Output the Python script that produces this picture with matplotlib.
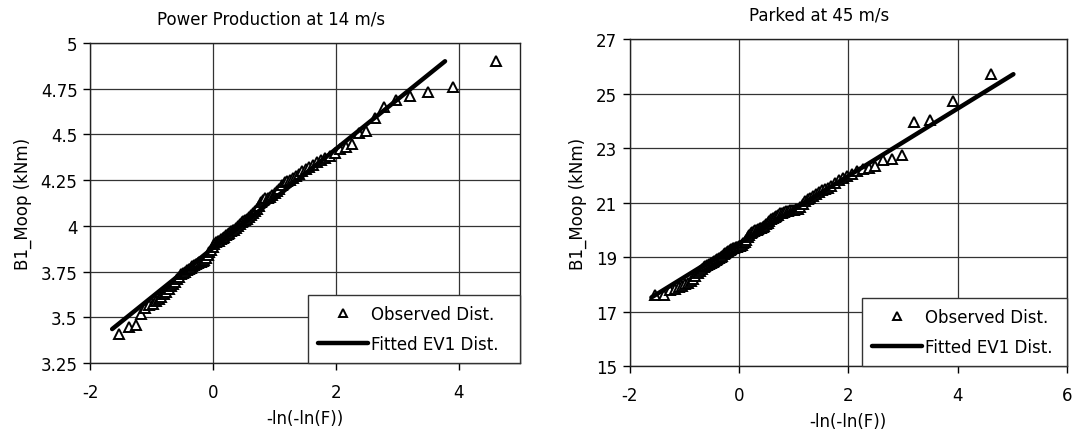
import matplotlib
matplotlib.use("Agg")
import matplotlib.pyplot as plt
from matplotlib.ticker import FuncFormatter

plt.rcParams['font.family'] = ['DejaVu Sans']
plt.rcParams['axes.unicode_minus'] = False

# reduced variate -ln(-ln(F)) of the 100 ranked samples (shared by both panels)
reduced_variate = [
    -1.529, -1.367, -1.258, -1.172, -1.101, -1.038, -0.982, -0.930, -0.883, -0.838,
    -0.796, -0.756, -0.718, -0.681, -0.646, -0.611, -0.578, -0.545, -0.513, -0.482,
    -0.451, -0.421, -0.392, -0.363, -0.334, -0.305, -0.277, -0.249, -0.221, -0.194,
    -0.167, -0.139, -0.112, -0.085, -0.058, -0.031, -0.004, 0.023, 0.050, 0.077,
    0.104, 0.131, 0.158, 0.185, 0.213, 0.240, 0.268, 0.296, 0.324, 0.352,
    0.381, 0.410, 0.439, 0.468, 0.498, 0.528, 0.559, 0.589, 0.621, 0.652,
    0.685, 0.717, 0.751, 0.785, 0.819, 0.855, 0.891, 0.927, 0.965, 1.004,
    1.043, 1.084, 1.125, 1.168, 1.212, 1.257, 1.305, 1.353, 1.404, 1.456,
    1.511, 1.568, 1.628, 1.691, 1.758, 1.828, 1.903, 1.982, 2.068, 2.160,
    2.261, 2.372, 2.495, 2.634, 2.794, 2.980, 3.209, 3.503, 3.912, 4.615,
]

# Power production at 14 m/s, observed B1_Moop (kNm)
power_obs = [
    3.41, 3.445, 3.46, 3.52, 3.55, 3.565, 3.575, 3.59, 3.60, 3.61,
    3.625, 3.64, 3.655, 3.67, 3.68, 3.695, 3.71, 3.72, 3.735, 3.745,
    3.75, 3.76, 3.765, 3.77, 3.78, 3.785, 3.79, 3.795, 3.80, 3.805,
    3.81, 3.815, 3.825, 3.84, 3.855, 3.87, 3.885, 3.90, 3.91, 3.915,
    3.92, 3.93, 3.935, 3.94, 3.95, 3.955, 3.96, 3.97, 3.975, 3.98,
    3.99, 4.00, 4.01, 4.02, 4.025, 4.03, 4.04, 4.05, 4.06, 4.07,
    4.08, 4.095, 4.11, 4.13, 4.14, 4.15, 4.155, 4.16, 4.17, 4.18,
    4.19, 4.20, 4.225, 4.24, 4.245, 4.25, 4.26, 4.27, 4.285, 4.30,
    4.31, 4.32, 4.335, 4.35, 4.36, 4.37, 4.38, 4.40, 4.42, 4.43,
    4.45, 4.51, 4.52, 4.59, 4.65, 4.69, 4.71, 4.73, 4.76, 4.90,
]
power_fit_x = [-1.64, 3.78]
power_fit_y = [3.436, 4.90]

# Parked at 45 m/s, observed B1_Moop (kNm)
parked_obs = [
    17.60, 17.62, 17.78, 17.84, 17.90, 17.95, 18.00, 18.05, 18.12, 18.20,
    18.30, 18.40, 18.50, 18.57, 18.62, 18.66, 18.70, 18.74, 18.78, 18.82,
    18.86, 18.89, 18.92, 18.96, 19.00, 19.05, 19.10, 19.15, 19.20, 19.24,
    19.27, 19.30, 19.32, 19.34, 19.36, 19.38, 19.40, 19.42, 19.45, 19.50,
    19.55, 19.62, 19.72, 19.82, 19.88, 19.92, 19.95, 19.98, 20.01, 20.04,
    20.06, 20.08, 20.10, 20.14, 20.20, 20.26, 20.32, 20.38, 20.43, 20.48,
    20.52, 20.56, 20.60, 20.63, 20.66, 20.68, 20.70, 20.71, 20.72, 20.73,
    20.75, 20.78, 20.85, 20.95, 21.05, 21.12, 21.18, 21.25, 21.32, 21.38,
    21.45, 21.50, 21.55, 21.60, 21.70, 21.82, 21.90, 21.97, 22.05, 22.15,
    22.23, 22.26, 22.35, 22.57, 22.60, 22.74, 23.94, 24.02, 24.73, 25.71,
]
parked_fit_x = [-1.60, 5.02]
parked_fit_y = [17.52, 25.71]

power_yticks = [3.25, 3.5, 3.75, 4, 4.25, 4.5, 4.75, 5]
parked_yticks = [15, 17, 19, 21, 23, 25, 27]

fig = plt.figure(figsize=(10.73, 4.35), dpi=100)
ax1 = fig.add_axes([0.0839, 0.163, 0.4007, 0.736])
ax2 = fig.add_axes([0.5867, 0.156, 0.4077, 0.752])


def style(ax, obs, fx, fy, xlim, xticks, ylim, yticks, title, tx, legx):
    ax.plot(reduced_variate, obs, linestyle='none', marker='^', markersize=6.5,
            mfc='white', mec='black', mew=1.4, zorder=3, label='Observed Dist.')
    ax.plot(fx, fy, color='black', lw=3.2, solid_capstyle='round', zorder=4,
            label='Fitted EV1 Dist.')
    ax.set_xlim(*xlim)
    ax.set_ylim(*ylim)
    ax.set_xticks(xticks)
    ax.set_yticks(yticks)
    ax.yaxis.set_major_formatter(FuncFormatter(lambda v, p: '%g' % v))
    ax.xaxis.set_major_formatter(FuncFormatter(lambda v, p: '%g' % v))
    ax.grid(True, color='#333333', lw=0.9, zorder=0)
    ax.set_axisbelow(True)
    for s in ax.spines.values():
        s.set_color('#222222')
        s.set_linewidth(1.0)
    ax.tick_params(direction='out', length=5, width=1, labelsize=12)
    ax.tick_params(axis='x', pad=9)
    ax.tick_params(axis='y', pad=4)
    ax.set_xlabel('-ln(-ln(F))', fontsize=12, labelpad=6)
    ax.set_ylabel('B1_Moop (kNm)', fontsize=12, labelpad=6)
    ax.text(tx, 1.075, title, transform=ax.transAxes, ha='center', va='center',
            fontsize=12)
    leg = ax.legend(loc='lower left', bbox_to_anchor=(legx, 0, 1 - legx, 0.2),
                    mode='expand', borderaxespad=0, fancybox=False,
                    edgecolor='#333333', framealpha=1, fontsize=12,
                    handlelength=3.0, handletextpad=0.2, borderpad=0.6,
                    labelspacing=0.75, markerscale=0.8)
    leg.get_frame().set_linewidth(1.0)
    leg.set_zorder(10)


style(ax1, power_obs, power_fit_x, power_fit_y, (-2, 5), [-2, 0, 2, 4],
      (3.25, 5), power_yticks, 'Power Production at 14 m/s', 0.42, 0.507)
style(ax2, parked_obs, parked_fit_x, parked_fit_y, (-2, 6), [-2, 0, 2, 4, 6],
      (15, 27), parked_yticks, 'Parked at 45 m/s', 0.433, 0.531)

fig.savefig('out.png', dpi=100)
